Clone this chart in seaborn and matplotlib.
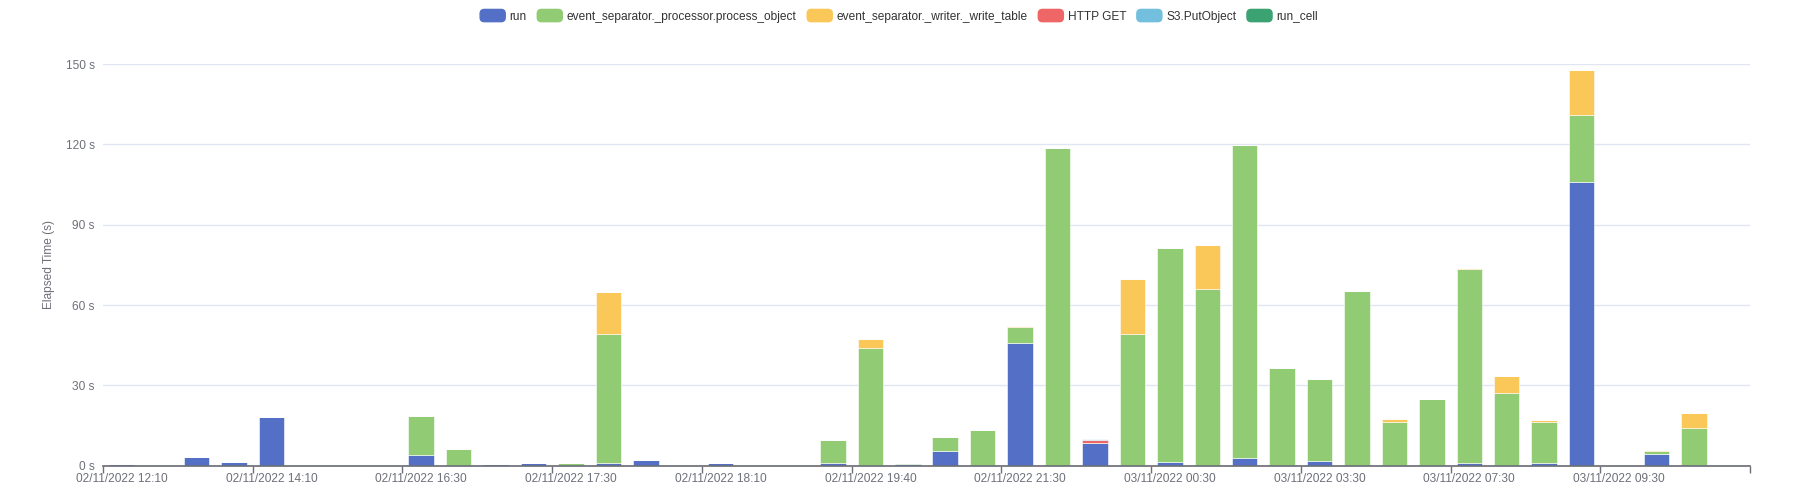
# stacked elapsed time per run window

import numpy as np
import pandas as pd
import seaborn as sns
import matplotlib.pyplot as plt
from matplotlib.patches import Patch, FancyBboxPatch
from matplotlib.legend_handler import HandlerPatch

series = ["run", "event_separator._processor.process_object",
          "event_separator._writer._write_table", "HTTP GET", "S3.PutObject", "run_cell"]
colors = ["#5470c6", "#91cc75", "#fac858", "#ee6666", "#73c0de", "#3ba272"]

n_slots = 44
tick_labels = ["02/11/2022 12:10", "02/11/2022 14:10", "02/11/2022 16:30", "02/11/2022 17:30",
               "02/11/2022 18:10", "02/11/2022 19:40", "02/11/2022 21:30", "03/11/2022 00:30",
               "03/11/2022 03:30", "03/11/2022 07:30", "03/11/2022 09:30"]

run = [0.7, 0, 3.3, 1.2, 18.2, 0, 0, 0, 3.8, 0, 0.6, 1.1, 0, 1.0, 2.1, 0, 1.1, 0, 0, 0.9,
       0, 0.7, 5.6, 0, 45.9, 0, 8.4, 0, 1.2, 0, 3.0, 0, 1.6, 0, 0, 0, 0.9, 0, 0.9, 105.8,
       0, 4.3, 0, 0]
process_object = [0, 0, 0, 0, 0, 0, 0, 0, 14.9, 6.3, 0, 0, 0.8, 48.2, 0, 0, 0, 0, 0, 8.5,
                  44.0, 0.4, 5.1, 13.4, 5.8, 118.5, 0, 49.2, 80.1, 66.0, 116.7, 36.4, 30.6, 65.4, 16.3, 24.9,
                  72.5, 27.2, 15.4, 25.1, 0, 1.2, 14.1, 0]
write_table = [0, 0, 0, 0, 0, 0, 0, 0, 0, 0, 0, 0, 0, 15.7, 0, 0, 0, 0, 0, 0,
               3.2, 0, 0, 0, 0.6, 0, 0, 20.6, 0, 16.3, 0, 0, 0, 0, 1.0, 0,
               0.4, 6.3, 0.9, 17.1, 0, 0.5, 5.6, 0]
http_get = [0] * 26 + [1.1] + [0] * 17
s3_put = [0] * 26 + [0.6] + [0] * 17
run_cell = [0] * 44

values = [run, process_object, write_table, http_get, s3_put, run_cell]

sns.set_theme(style="white")
plt.rcParams['font.family'] = ['Liberation Sans', 'DejaVu Sans']
fs = 8.6

fig = plt.figure(figsize=(17.98, 5), dpi=100)
ax = fig.add_axes([0.0573, 0.0688, 0.9160, 0.8028])

slots = np.arange(n_slots)
bottom = np.zeros(n_slots)
for name, vals, col in zip(series, values, colors):
    vals = np.array(vals, dtype=float)
    sns.barplot(x=slots, y=vals, bottom=bottom, color=col, width=0.68,
                edgecolor="white", linewidth=0.4, ax=ax, saturation=1)
    bottom = bottom + vals

ax.set_xlim(-0.5, n_slots - 0.5)
ax.set_ylim(0, 150)
ax.set_yticks(range(0, 151, 30))
ax.set_yticklabels([f"{v} s" for v in range(0, 151, 30)], color="#6e7079", fontsize=fs)
ax.yaxis.grid(True, color="#e0e6f1", linewidth=1)
ax.set_axisbelow(True)
ax.tick_params(axis="y", length=0, pad=6)

ax.set_xticks(np.arange(0, 41, 4))
ax.set_xticklabels(tick_labels, color="#6e7079", fontsize=fs)
ax.tick_params(axis="x", which="major", length=0, pad=5)
ax.set_xticks(np.arange(-0.5, n_slots, 4), minor=True)
ax.tick_params(axis="x", which="minor", length=5, width=1, color="#6e7079", bottom=True)
ax.set_xlabel("")

for side in ["top", "right", "left"]:
    ax.spines[side].set_visible(False)
ax.spines["bottom"].set_color("#6e7079")

ax.set_ylabel("Elapsed Time (s)", color="#6e7079", fontsize=fs, labelpad=8)


def round_icon(legend, orig_handle, xdescent, ydescent, width, height, fontsize):
    return FancyBboxPatch((-xdescent, -ydescent), width, height,
                          boxstyle="round,pad=0,rounding_size=3")


handles = [Patch(facecolor=c, edgecolor=c, label=s) for s, c in zip(series, colors)]
fig.legend(handles=handles, loc="center", bbox_to_anchor=(0.5, 0.968), ncol=6, frameon=False,
           fontsize=fs, handlelength=2.1, handleheight=1.2, handletextpad=0.35,
           columnspacing=0.9, labelcolor="#333333",
           handler_map={Patch: HandlerPatch(patch_func=round_icon)})

fig.savefig("out.png", dpi=100)
